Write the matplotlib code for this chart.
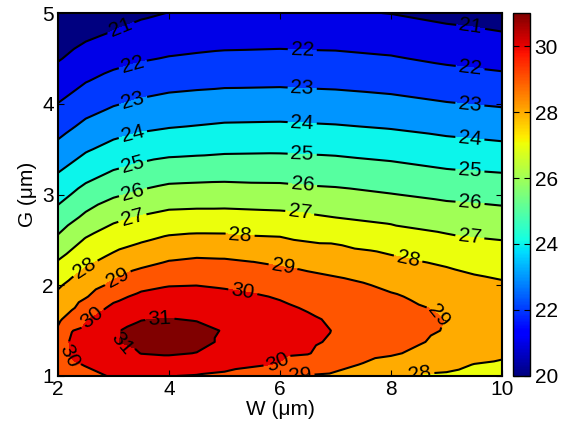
import matplotlib
matplotlib.use("Agg")
import matplotlib.pyplot as plt
import matplotlib.colors as mcolors
import matplotlib.tri as mtri
import numpy as np

plt.rcParams['font.family'] = ['Liberation Sans', 'DejaVu Sans']

# values
# lower part (G = 1 .. 2.25) on a finer grid, one list per W column
lo_w = [2, 2.25, 2.5, 3, 3.25, 3.5, 4, 4.5, 5, 5.5, 6, 6.5, 7, 7.5, 8, 8.5, 9, 9.5, 10]
lo_g = [1.0, 1.125, 1.25, 1.375, 1.5, 1.625, 1.75, 1.875, 2.0, 2.25]
lo_w2 = [29.55, 29.68, 29.72, 29.55, 29.15, 28.80, 28.50, 28.20, 27.88, 27.09]
lo_w225 = [29.75, 29.92, 30.07, 30.12, 29.98, 29.50, 28.88, 28.55, 28.25, 27.50]
lo_w25 = [29.85, 30.03, 30.22, 30.30, 30.18, 29.93, 29.45, 28.93, 28.57, 27.85]
lo_w3 = [30.05, 30.35, 30.65, 30.94, 30.92, 30.60, 30.20, 29.75, 29.20, 28.35]
lo_w325 = [30.08, 30.45, 30.80, 31.08, 31.08, 30.85, 30.40, 29.98, 29.50, 28.58]
lo_w35 = [30.10, 30.55, 31.02, 31.22, 31.22, 30.97, 30.60, 30.20, 29.75, 28.76]
lo_w4 = [30.02, 30.55, 31.10, 31.33, 31.32, 31.03, 30.70, 30.35, 29.96, 29.07]
lo_w45 = [29.95, 30.45, 30.98, 31.22, 31.22, 30.95, 30.63, 30.32, 29.99, 29.19]
lo_w5 = [29.85, 30.25, 30.60, 30.88, 30.95, 30.80, 30.50, 30.22, 29.90, 29.15]
lo_w55 = [29.62, 30.10, 30.42, 30.63, 30.70, 30.58, 30.35, 30.10, 29.78, 29.03]
lo_w6 = [29.08, 29.95, 30.15, 30.38, 30.45, 30.35, 30.15, 29.93, 29.58, 28.88]
lo_w65 = [28.95, 29.55, 30.05, 30.17, 30.20, 30.12, 29.93, 29.70, 29.40, 28.75]
lo_w7 = [28.85, 29.25, 29.60, 29.85, 29.96, 29.88, 29.68, 29.45, 29.25, 28.60]
lo_w75 = [28.50, 28.95, 29.30, 29.55, 29.70, 29.70, 29.50, 29.30, 29.07, 28.45]
lo_w8 = [28.15, 28.60, 29.12, 29.33, 29.45, 29.43, 29.28, 29.10, 28.83, 28.24]
lo_w85 = [27.95, 28.35, 28.82, 29.07, 29.17, 29.15, 29.05, 28.88, 28.65, 28.05]
lo_w9 = [27.90, 28.20, 28.50, 28.78, 28.95, 28.98, 28.90, 28.72, 28.45, 27.89]
lo_w95 = [27.75, 27.98, 28.30, 28.52, 28.67, 28.70, 28.62, 28.48, 28.25, 27.72]
lo_w10 = [27.60, 27.88, 28.15, 28.32, 28.43, 28.45, 28.40, 28.30, 28.12, 27.60]

# upper part (G = 2.5 .. 5), coarser W columns
up_w = [2, 2.5, 3, 3.5, 4, 4.5, 5, 6, 7, 8, 9, 10]
up_g = [2.5, 2.75, 3.0, 3.25, 3.5, 3.75, 4.0, 4.25, 4.5, 4.75, 5.0]
up_w2 = [26.19, 25.39, 24.67, 23.97, 23.28, 22.63, 22.02, 21.47, 20.92, 20.45, 20.05]
up_w25 = [27.09, 26.19, 25.38, 24.62, 23.89, 23.22, 22.58, 21.96, 21.40, 20.86, 20.30]
up_w3 = [27.58, 26.78, 25.87, 25.06, 24.30, 23.59, 22.93, 22.30, 21.70, 21.12, 20.60]
up_w35 = [27.90, 27.07, 26.18, 25.33, 24.55, 23.82, 23.16, 22.53, 21.91, 21.37, 20.85]
up_w4 = [28.18, 27.29, 26.41, 25.54, 24.70, 23.95, 23.31, 22.68, 22.05, 21.52, 21.02]
up_w45 = [28.27, 27.33, 26.45, 25.59, 24.76, 24.03, 23.38, 22.75, 22.13, 21.59, 21.08]
up_w5 = [28.26, 27.33, 26.47, 25.63, 24.83, 24.11, 23.45, 22.80, 22.20, 21.64, 21.12]
up_w6 = [28.12, 27.25, 26.40, 25.61, 24.86, 24.14, 23.47, 22.83, 22.24, 21.67, 21.12]
up_w7 = [27.86, 26.99, 26.24, 25.51, 24.79, 24.06, 23.39, 22.77, 22.19, 21.64, 21.10]
up_w8 = [27.53, 26.76, 26.03, 25.33, 24.63, 23.92, 23.26, 22.65, 22.07, 21.53, 20.98]
up_w9 = [27.19, 26.50, 25.80, 25.09, 24.39, 23.71, 23.05, 22.43, 21.83, 21.28, 20.75]
up_w10 = [26.99, 26.34, 25.67, 24.97, 24.24, 23.55, 22.90, 22.26, 21.66, 21.09, 20.60]

fill_levels = [20, 21, 22, 23, 24, 25, 26, 27, 28, 29, 30, 31, 32]
line_levels = [21, 22, 23, 24, 25, 26, 27, 28, 29, 30, 31]
cbar_ticks = [20, 22, 24, 26, 28, 30]
x_ticks = [2, 4, 6, 8, 10]
y_ticks = [1, 2, 3, 4, 5]

# where the inline labels sit (W, G)
label_pos = [(3.15, 4.81), (9.42, 4.79),
             (3.35, 4.43), (6.40, 4.57), (9.42, 4.37),
             (3.35, 4.04), (6.40, 4.17), (9.42, 3.99),
             (3.35, 3.66), (6.40, 3.79), (9.42, 3.61),
             (3.35, 3.33), (6.40, 3.44), (9.42, 3.25),
             (3.35, 3.03), (6.41, 3.12), (9.42, 2.88),
             (3.35, 2.72), (6.36, 2.82), (9.42, 2.53),
             (2.49, 2.19), (5.28, 2.54), (8.31, 2.30), (8.52, 1.02),
             (3.06, 2.10), (6.05, 2.19), (8.85, 1.66), (6.36, 1.01),
             (2.61, 1.64), (2.22, 1.23), (5.33, 1.93), (5.96, 1.15),
             (3.84, 1.60), (3.08, 1.26)]

lo_z = np.array([lo_w2, lo_w225, lo_w25, lo_w3, lo_w325, lo_w35, lo_w4, lo_w45,
                 lo_w5, lo_w55, lo_w6, lo_w65, lo_w7, lo_w75, lo_w8, lo_w85,
                 lo_w9, lo_w95, lo_w10])
up_z = np.array([up_w2, up_w25, up_w3, up_w35, up_w4, up_w45, up_w5, up_w6,
                 up_w7, up_w8, up_w9, up_w10])
Wl, Gl = np.meshgrid(lo_w, lo_g, indexing='ij')
Wu, Gu = np.meshgrid(up_w, up_g, indexing='ij')
w = np.concatenate([Wl.ravel(), Wu.ravel()])
g = np.concatenate([Gl.ravel(), Gu.ravel()])
z = np.concatenate([lo_z.ravel(), up_z.ravel()])
tri = mtri.Triangulation(w, g)

norm = mcolors.Normalize(20, 31)
fill_colors = [plt.cm.jet(norm(v)) for v in fill_levels[:-1]]

fig = plt.figure(figsize=(5.74, 4.21), dpi=100)
ax = fig.add_axes([0.101, 0.107, 0.7736, 0.862])
cax = fig.add_axes([0.894, 0.107, 0.030, 0.862])

ax.tricontourf(tri, z, levels=fill_levels, colors=fill_colors)
cs = ax.tricontour(tri, z, levels=line_levels, colors='k', linewidths=1.5)
labels = ax.clabel(cs, manual=label_pos, fontsize=15, inline=True,
                   fmt='%d', inline_spacing=3)
for t in labels:
    t.set_clip_on(True)

ax.set_xlim(2, 10)
ax.set_ylim(1, 5)
ax.set_xticks(x_ticks)
ax.set_yticks(y_ticks)
ax.tick_params(direction='in', length=4, width=0.8, labelsize=15,
               top=True, right=True, pad=3)
for s in ax.spines.values():
    s.set_linewidth(1.5)
ax.set_xlabel('W (\u03bcm)', fontsize=15, labelpad=0.5)
ax.set_ylabel('G (\u03bcm)', fontsize=15, labelpad=4)

sm = plt.cm.ScalarMappable(norm=norm, cmap='jet')
cb = fig.colorbar(sm, cax=cax, ticks=cbar_ticks)
cb.ax.tick_params(direction='in', length=4, width=0.8, labelsize=15,
                  left=True, right=True, pad=3)
cb.outline.set_linewidth(1.0)

fig.savefig('out.png', dpi=100)
